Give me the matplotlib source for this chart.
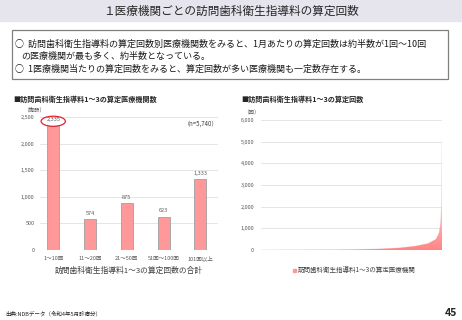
import numpy as np
import matplotlib
matplotlib.use("Agg")
import matplotlib.pyplot as plt
from matplotlib.patches import Rectangle, Ellipse
from matplotlib.colors import LinearSegmentedColormap

plt.rcParams['font.family'] = ['Noto Sans CJK JP', 'DejaVu Sans']

# --- dati ---
categories = ['1～10回', '11～20回', '21～50回', '51回～100回', '101回以上']
counts = [2335, 574, 875, 623, 1333]
n_total = 5740

# curva ordinata (rango istituto, numero di calcoli)
rank = [0, 2335, 2909, 3784, 4407, 4900, 5300, 5550, 5650, 5700, 5725, 5740]
value = [1, 10, 20, 50, 100, 180, 300, 500, 800, 1300, 2300, 5000]

W, H = 462, 320
fig = plt.figure(figsize=(W / 100, H / 100), dpi=100)

def fx(x):
    return x / W

def fy(y):
    return 1 - y / H

# --- titolo ---
fig.patches.append(Rectangle((0, fy(21)), 1, 21 / H, transform=fig.transFigure,
                             color='#e6e5ee', zorder=0))
fig.text(0.5, fy(11), '１医療機関ごとの訪問歯科衛生指導料の算定回数', ha='center', va='center',
         fontsize=8.4, color='#262626')

# --- riquadro testo ---
fig.patches.append(Rectangle((fx(12), fy(79)), fx(436), 49 / H, transform=fig.transFigure,
                             fill=False, edgecolor='#808080', lw=0.9))
txt_kw = dict(va='center', fontsize=6.5, color='#1a1a1a')
fig.text(fx(15), fy(44), '○  訪問歯科衛生指導料の算定回数別医療機関数をみると、1月あたりの算定回数は約半数が1回～10回', **txt_kw)
fig.text(fx(21), fy(56), 'の医療機関が最も多く、約半数となっている。', **txt_kw)
fig.text(fx(15), fy(69), '○  1医療機関当たりの算定回数をみると、算定回数が多い医療機関も一定数存在する。', **txt_kw)

tick_col = '#595959'
grid_col = '#e0e0e0'

# --- grafico sinistro ---
ax1 = fig.add_axes([fx(40), fy(250), fx(178), 133 / H])
x = np.arange(len(categories))
ax1.bar(x, counts, width=0.33, color='#ff9999', edgecolor='#a0a0a0', lw=0.6, zorder=3)
for xi, c in zip(x, counts):
    ax1.annotate(f'{c:,}', (xi, c), xytext=(0, 2.5), textcoords='offset points',
                 ha='center', va='bottom', fontsize=4, color=tick_col)
ax1.add_patch(Ellipse((0, counts[0] + 85), 0.66, 190, fill=False, edgecolor='#e8202a',
                      lw=0.9, clip_on=False, zorder=4))
ax1.set_ylim(0, 2500)
ax1.set_xlim(-0.36, 4.48)
ax1.set_yticks([0, 500, 1000, 1500, 2000, 2500])
ax1.set_yticklabels([f'{v:,}' for v in [0, 500, 1000, 1500, 2000, 2500]])
ax1.set_xticks(x)
ax1.set_xticklabels(categories)
ax1.tick_params(labelsize=4, colors=tick_col, length=0, pad=4)
ax1.grid(axis='y', color=grid_col, lw=0.6, zorder=0)
for s in ax1.spines.values():
    s.set_visible(False)
ax1.set_xlabel('訪問歯科衛生指導料1～3の算定回数の合計', fontsize=5.6, color='#404040', labelpad=4)

fig.text(fx(13), fy(99), '■訪問歯科衛生指導料1～3の算定医療機関数', va='center', fontsize=5.1,
         fontweight='bold', color='#262626')
fig.text(fx(23), fy(110), '（施設）', va='center', fontsize=4, color=tick_col)
fig.text(fx(218), fy(124), f'（n={n_total:,}）', va='center', ha='right', fontsize=4.4, color='#404040')

# --- grafico destro ---
ax2 = fig.add_axes([fx(261), fy(250), fx(181), 130 / H])
ax2.set_ylim(0, 6000)
ax2.set_xlim(0, n_total)
poly = ax2.fill_between(rank, value, 0, color='none', lw=0)
ax2.plot(rank, value, color='#ffb3b3', lw=0.4, alpha=0.6)
cmap = LinearSegmentedColormap.from_list('g', ['#ff8585', '#ffd9d9', '#ffffff'])
grad = np.linspace(0, 1, 256).reshape(-1, 1)
img = ax2.imshow(grad, cmap=cmap, aspect='auto', origin='lower',
                 extent=[0, n_total, 0, 5000], zorder=2)
img.set_clip_path(poly.get_paths()[0], transform=ax2.transData)
ax2.set_yticks(range(0, 7000, 1000))
ax2.set_yticklabels([f'{v:,}' for v in range(0, 7000, 1000)])
ax2.set_xticks([])
ax2.tick_params(labelsize=4, colors=tick_col, length=0, pad=5)
ax2.grid(axis='y', color=grid_col, lw=0.6, zorder=0)
for s in ax2.spines.values():
    s.set_visible(False)

fig.text(fx(241), fy(99), '■訪問歯科衛生指導料1～3の算定回数', va='center', fontsize=5.1,
         fontweight='bold', color='#262626')
fig.text(fx(243), fy(113), '（回）', va='center', fontsize=4, color=tick_col)
fig.patches.append(Rectangle((fx(293), fy(272)), fx(3), 3 / H, transform=fig.transFigure,
                             color='#ff9999'))
fig.text(fx(298), fy(270), '訪問歯科衛生指導料1～3の算定医療機関', va='center', fontsize=4.7,
         color='#404040')

# --- piè di pagina ---
fig.text(fx(5), fy(314), '出典:NDBデータ（令和4年5月診療分）', va='center', fontsize=4, color='#262626')
fig.text(fx(457), fy(313), '45', va='center', ha='right', fontsize=7.5, fontweight='bold', color='#262626')

fig.savefig('out.png', dpi=100)
